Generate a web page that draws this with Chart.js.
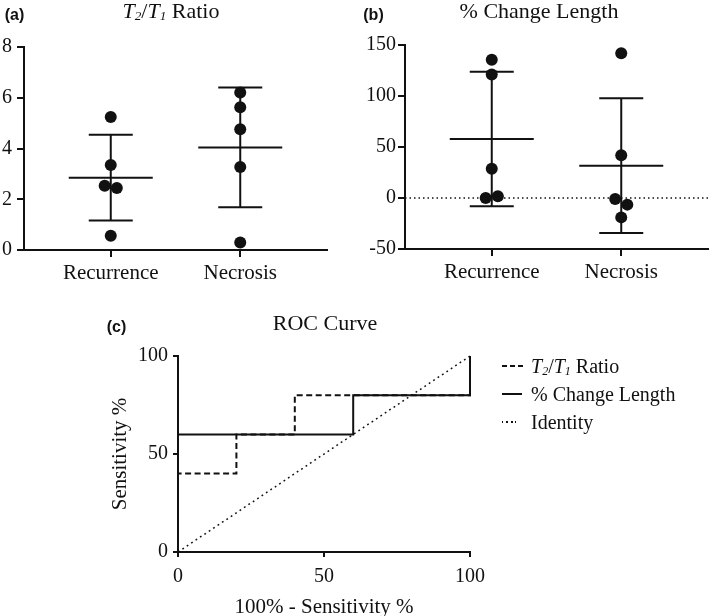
<!DOCTYPE html>
<html>
<head>
<meta charset="utf-8">
<script src="https://cdn.jsdelivr.net/npm/chart.js@4"></script>
<style>
body { margin: 0; background: #fff; width: 709px; height: 616px; overflow: hidden; position: relative; font-family: 'Liberation Serif', 'Times New Roman', serif; color: #111; }
canvas { position: absolute; }
.lbl { position: absolute; font-family: 'Liberation Sans', Arial, sans-serif; font-weight: bold; font-size: 16px; line-height: 1; transform: translate(-50%, -50%); white-space: nowrap; }
.ttl { position: absolute; font-size: 22px; line-height: 1; transform: translate(-50%, -50%); white-space: nowrap; }
sub { font-size: 0.6em; vertical-align: -0.15em; line-height: 0; font-style: italic; }
.leg { position: absolute; left: 502px; font-size: 20px; line-height: 1; white-space: nowrap; display: flex; align-items: center; transform: translateY(-50%); }
.smp { display: inline-flex; align-items: center; width: 29px; height: 20px; }
.smp b { display: block; }
.dash { width: 21px; height: 2px; background: repeating-linear-gradient(to right, #111 0 5px, transparent 5px 8px); }
.solid { width: 20px; height: 2px; background: #111; }
.dot { width: 14px; height: 1.5px; background: repeating-linear-gradient(to right, #111 0 1.5px, transparent 1.5px 4.5px); }
</style>
</head>
<body>
<canvas id="ratioChart" width="340" height="290" style="left:0px;top:0px"></canvas>
<canvas id="changeChart" width="364" height="289" style="left:345px;top:0px"></canvas>
<canvas id="rocChart" width="609" height="320" style="left:100px;top:300px"></canvas>

<div class="lbl" style="left:14.5px;top:15px">(a)</div>
<div class="ttl" style="left:171px;top:11px"><i>T</i><sub>2</sub>/<i>T</i><sub>1</sub> Ratio</div>
<div class="lbl" style="left:373.5px;top:15px">(b)</div>
<div class="ttl" style="left:539px;top:11px">% Change Length</div>
<div class="lbl" style="left:116.5px;top:327px">(c)</div>
<div class="ttl" style="left:325px;top:323px">ROC Curve</div>

<div class="leg" style="top:366px"><span class="smp"><b class="dash"></b></span><span><i>T</i><sub>2</sub>/<i>T</i><sub>1</sub> Ratio</span></div>
<div class="leg" style="top:394px"><span class="smp"><b class="solid"></b></span><span>% Change Length</span></div>
<div class="leg" style="top:422px"><span class="smp"><b class="dot"></b></span><span>Identity</span></div>

<script>
// values
var groups = ['Recurrence', 'Necrosis'];

var ratioTicks = [0, 2, 4, 6, 8];
var ratioRecurrence = [5.24, 3.35, 2.53, 2.44, 0.56];
var ratioNecrosis = [6.21, 5.63, 4.76, 3.27, 0.30];
var ratioMean = [2.85, 4.04];
var ratioSD = [1.69, 2.36];

var changeTicks = [-50, 0, 50, 100, 150];
var changeRecurrence = [135.6, 121.0, 28.7, 0.0, 1.7];
var changeNecrosis = [141.8, 41.8, -1.0, -6.5, -19.0];
var changeMean = [57.8, 31.7];
var changeSD = [66.0, 66.0];

var rocTicks = [0, 50, 100];
var ratioFpr = [0, 0, 20, 20, 40, 40, 100, 100];
var ratioTpr = [0, 40, 40, 60, 60, 80, 80, 100];
var changeFpr = [0, 0, 60, 60, 100, 100];
var changeTpr = [0, 60, 60, 80, 80, 100];
var identityFpr = [0, 100];
var identityTpr = [0, 100];

var black = '#111';
var xMin = 0.33, xMax = 2.67;
Chart.defaults.font.family = "'Liberation Serif', 'Times New Roman', serif";
Chart.defaults.color = black;

// spread points that would sit on top of each other (like Prism does)
function jitter(vals, range) {
    var off = vals.map(function () { return 0; });
    vals.forEach(function (v, i) {
        var near = [];
        vals.forEach(function (w, j) { if (Math.abs(v - w) < range * 0.055) near.push(j); });
        if (near.length > 1) off[i] = (near.indexOf(i) - (near.length - 1) / 2) * 0.094;
    });
    return off;
}

function axisStyle(tickLen) {
    return {
        grid: { drawOnChartArea: false, drawTicks: true, tickLength: tickLen, color: black, lineWidth: 2 },
        border: { display: true, color: black, width: 2 }
    };
}

// fixed axis boxes so the plot areas land where the figure has them
function fixHeight(h) {
    return function (s) { s.height = h; s.paddingLeft = 0; s.paddingRight = 0; };
}
function fixWidth(w) {
    return function (s) { s.width = w; s.paddingTop = 0; s.paddingBottom = 0; };
}

function dotPanel(id, ticks, values, means, sds, withZero, yWidth, yPad, pad) {
    var range = ticks[ticks.length - 1] - ticks[0];
    var datasets = [];
    values.forEach(function (vals, g) {
        var off = jitter(vals, range);
        datasets.push({
            data: vals.map(function (v, i) { return { x: g + 1 + off[i], y: v }; }),
            pointRadius: 6, pointBackgroundColor: black, pointBorderWidth: 0
        });
    });
    means.forEach(function (m, g) {
        datasets.push({
            data: [{ x: g + 1, y: m }],
            pointStyle: 'line', pointRadius: 42, pointBorderColor: black, pointBorderWidth: 2
        });
        datasets.push({
            data: [{ x: g + 1, y: m - sds[g] }, { x: g + 1, y: m + sds[g] }],
            showLine: true, borderColor: black, borderWidth: 2,
            pointStyle: 'line', pointRadius: 22, pointBorderColor: black, pointBorderWidth: 2
        });
    });
    if (withZero) {
        datasets.push({
            data: [{ x: xMin, y: 0 }, { x: xMax, y: 0 }],
            showLine: true, borderColor: black, borderWidth: 1.5, borderDash: [1.5, 3], pointRadius: 0
        });
    }
    var xs = axisStyle(7), ys = axisStyle(7);
    return new Chart(document.getElementById(id), {
        type: 'scatter',
        data: { datasets: datasets },
        options: {
            responsive: false,
            animation: false,
            events: [],
            layout: { padding: pad, autoPadding: false },
            plugins: { legend: { display: false }, tooltip: { enabled: false } },
            scales: {
                x: {
                    type: 'linear', min: xMin, max: xMax,
                    afterBuildTicks: function (s) { s.ticks = groups.map(function (g, i) { return { value: i + 1 }; }); },
                    afterFit: fixHeight(40),
                    ticks: { callback: function (v, i) { return groups[i]; }, font: { size: 21 }, color: black, padding: 4, autoSkip: false, maxRotation: 0 },
                    grid: xs.grid, border: xs.border
                },
                y: {
                    min: ticks[0], max: ticks[ticks.length - 1],
                    afterBuildTicks: function (s) { s.ticks = ticks.map(function (v) { return { value: v }; }); },
                    afterFit: fixWidth(yWidth),
                    ticks: { font: { size: 20 }, color: black, padding: yPad },
                    grid: ys.grid, border: ys.border
                }
            }
        }
    });
}

dotPanel('ratioChart', ratioTicks, [ratioRecurrence, ratioNecrosis], ratioMean, ratioSD, false, 24, 5,
    { left: 0, right: 13, top: 47, bottom: 0 });
dotPanel('changeChart', changeTicks, [changeRecurrence, changeNecrosis], changeMean, changeSD, true, 60, 2,
    { left: 0, right: 1, top: 45, bottom: 0 });

function pairs(xs, ys) {
    return xs.map(function (x, i) { return { x: x, y: ys[i] }; });
}

var cx = axisStyle(5), cy = axisStyle(5);
new Chart(document.getElementById('rocChart'), {
    type: 'scatter',
    data: {
        datasets: [
            { label: 'T2/T1 Ratio', data: pairs(ratioFpr, ratioTpr), showLine: true, borderColor: black, borderWidth: 2, borderDash: [6, 3.5], pointRadius: 0, clip: false },
            { label: '% Change Length', data: pairs(changeFpr, changeTpr), showLine: true, borderColor: black, borderWidth: 2, pointRadius: 0, clip: false },
            { label: 'Identity', data: pairs(identityFpr, identityTpr), showLine: true, borderColor: black, borderWidth: 1.5, borderDash: [1.8, 3.5], pointRadius: 0, clip: false }
        ]
    },
    options: {
        responsive: false,
        animation: false,
        events: [],
        layout: { padding: { left: 0, right: 239, top: 56, bottom: 0 }, autoPadding: false },
        plugins: { legend: { display: false }, tooltip: { enabled: false } },
        scales: {
            x: {
                type: 'linear', min: 0, max: 100,
                afterBuildTicks: function (s) { s.ticks = rocTicks.map(function (v) { return { value: v }; }); },
                afterFit: fixHeight(68),
                ticks: { font: { size: 20 }, color: black, padding: 8, maxRotation: 0 },
                title: { display: true, text: '100% - Sensitivity %', font: { size: 21 }, color: black, padding: { top: 0, bottom: 0 } },
                grid: cx.grid, border: cx.border
            },
            y: {
                min: 0, max: 100,
                afterBuildTicks: function (s) { s.ticks = rocTicks.map(function (v) { return { value: v }; }); },
                afterFit: fixWidth(78),
                ticks: { font: { size: 20 }, color: black, padding: 5 },
                title: { display: true, text: 'Sensitivity %', font: { size: 21 }, color: black, padding: { top: 8, bottom: 0 } },
                grid: cy.grid, border: cy.border
            }
        }
    }
});
</script>
</body>
</html>
